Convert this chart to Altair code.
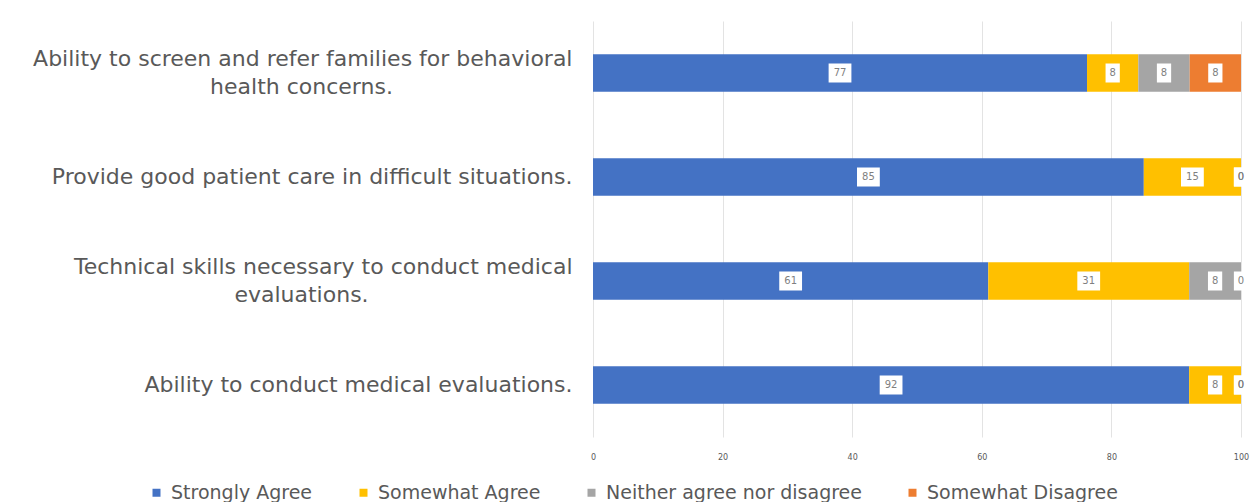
import altair as alt
import pandas as pd

items = [
    "Ability to screen and refer families for behavioral|health concerns.",
    "Provide good patient care in difficult situations.",
    "Technical skills necessary to conduct medical|evaluations.",
    "Ability to conduct medical evaluations.",
]
categories = ["Strongly Agree", "Somewhat Agree", "Neither agree nor disagree", "Somewhat Disagree"]
colors = ["#4472C4", "#FFC000", "#A5A5A5", "#ED7D31"]

strongly_agree = [77, 85, 61, 92]
somewhat_agree = [8, 15, 31, 8]
neither = [8, 0, 8, 0]
somewhat_disagree = [8, 0, 0, 0]

rows = []
for i, it in enumerate(items):
    for k, (cat, vals) in enumerate(zip(categories, [strongly_agree, somewhat_agree, neither, somewhat_disagree])):
        rows.append({"item": it, "cat": cat, "value": vals[i], "order": k,
                     "label": str(vals[i]), "digits": str(len(str(vals[i])))})
df = pd.DataFrame(rows)

font = "DejaVu Sans"
grey = "#595959"

base = alt.Chart(df).transform_stack(
    stack="value", groupby=["item"], as_=["v0", "v1"], offset="normalize",
    sort=[alt.SortField("order", order="ascending")]
).transform_calculate(
    mid="(datum.v0 + datum.v1) / 2"
)

yscale = alt.Scale(paddingInner=0.64, paddingOuter=0.32)

# first lines: right-aligned against the plot
yenc1 = alt.Y("item:N", sort=items, title=None, scale=yscale,
              axis=alt.Axis(labelExpr="split(datum.label, '|')[0]", labelFont=font, labelFontSize=22,
                            labelColor=grey, labelPadding=21, ticks=False, domain=False, grid=False,
                            labelLimit=700, labelAlign="right",
                            labelOffset={"condition": {"test": "indexof(datum.label, '|') >= 0", "value": -14},
                                         "value": 0}))
# second lines: centred below the first lines
yenc2 = alt.Y("item:N", sort=items, title=None, scale=yscale,
              axis=alt.Axis(orient="left", labelExpr="indexof(datum.label, '|') >= 0 ? split(datum.label, '|')[1] : ''",
                            labelFont=font, labelFontSize=22, labelColor=grey, labelPadding=292,
                            ticks=False, domain=False, grid=False, labelLimit=700, labelAlign="center",
                            labelOffset=14))

bars = base.mark_bar().encode(
    y=yenc1,
    x=alt.X("v0:Q", title=None, scale=alt.Scale(domain=[0, 1], nice=False),
            axis=alt.Axis(values=[0, 0.2, 0.4, 0.6, 0.8, 1.0], labelExpr="format(datum.value*100, 'd')",
                          labelFont=font, labelFontSize=8, labelColor=grey, ticks=False, domain=False,
                          gridColor="#E3E3E3", labelPadding=16, labelFlush=False)),
    x2="v1:Q",
    color=alt.Color("cat:N", scale=alt.Scale(domain=categories, range=colors), title=None,
                    legend=alt.Legend(orient="none", direction="horizontal", legendX=-446, legendY=462,
                                      symbolType="square", symbolSize=64, symbolStrokeWidth=0,
                                      labelFont=font, labelFontSize=19, labelColor=grey, labelLimit=400,
                                      labelOffset=5, columnPadding=41, columns=4)),
)

box1 = "M-0.75,-1 L0.75,-1 L0.75,1 L-0.75,1 Z"
box2 = "M-1.2,-1 L1.2,-1 L1.2,1 L-1.2,1 Z"

boxes = base.mark_point(filled=True, opacity=1, strokeWidth=0, color="white", size=361).encode(
    y=yenc2,
    x=alt.X("mid:Q"),
    shape=alt.Shape("digits:N", scale=alt.Scale(domain=["1", "2"], range=[box1, box2]), legend=None),
)

texts = base.mark_text(font=font, fontSize=10, color="#7F7F7F").encode(
    y=alt.Y("item:N", sort=items, axis=None),
    x=alt.X("mid:Q"),
    text="label:N",
)

chart = alt.layer(bars, boxes, texts).resolve_axis(y="independent").properties(
    width=648, height=416,
    padding={"left": 593, "top": 21, "right": 10, "bottom": 65},
    autosize=alt.AutoSizeParams(type="none"),
).configure_view(stroke=None)

chart.save("out.html", embed_options={"renderer": "svg", "actions": False})
